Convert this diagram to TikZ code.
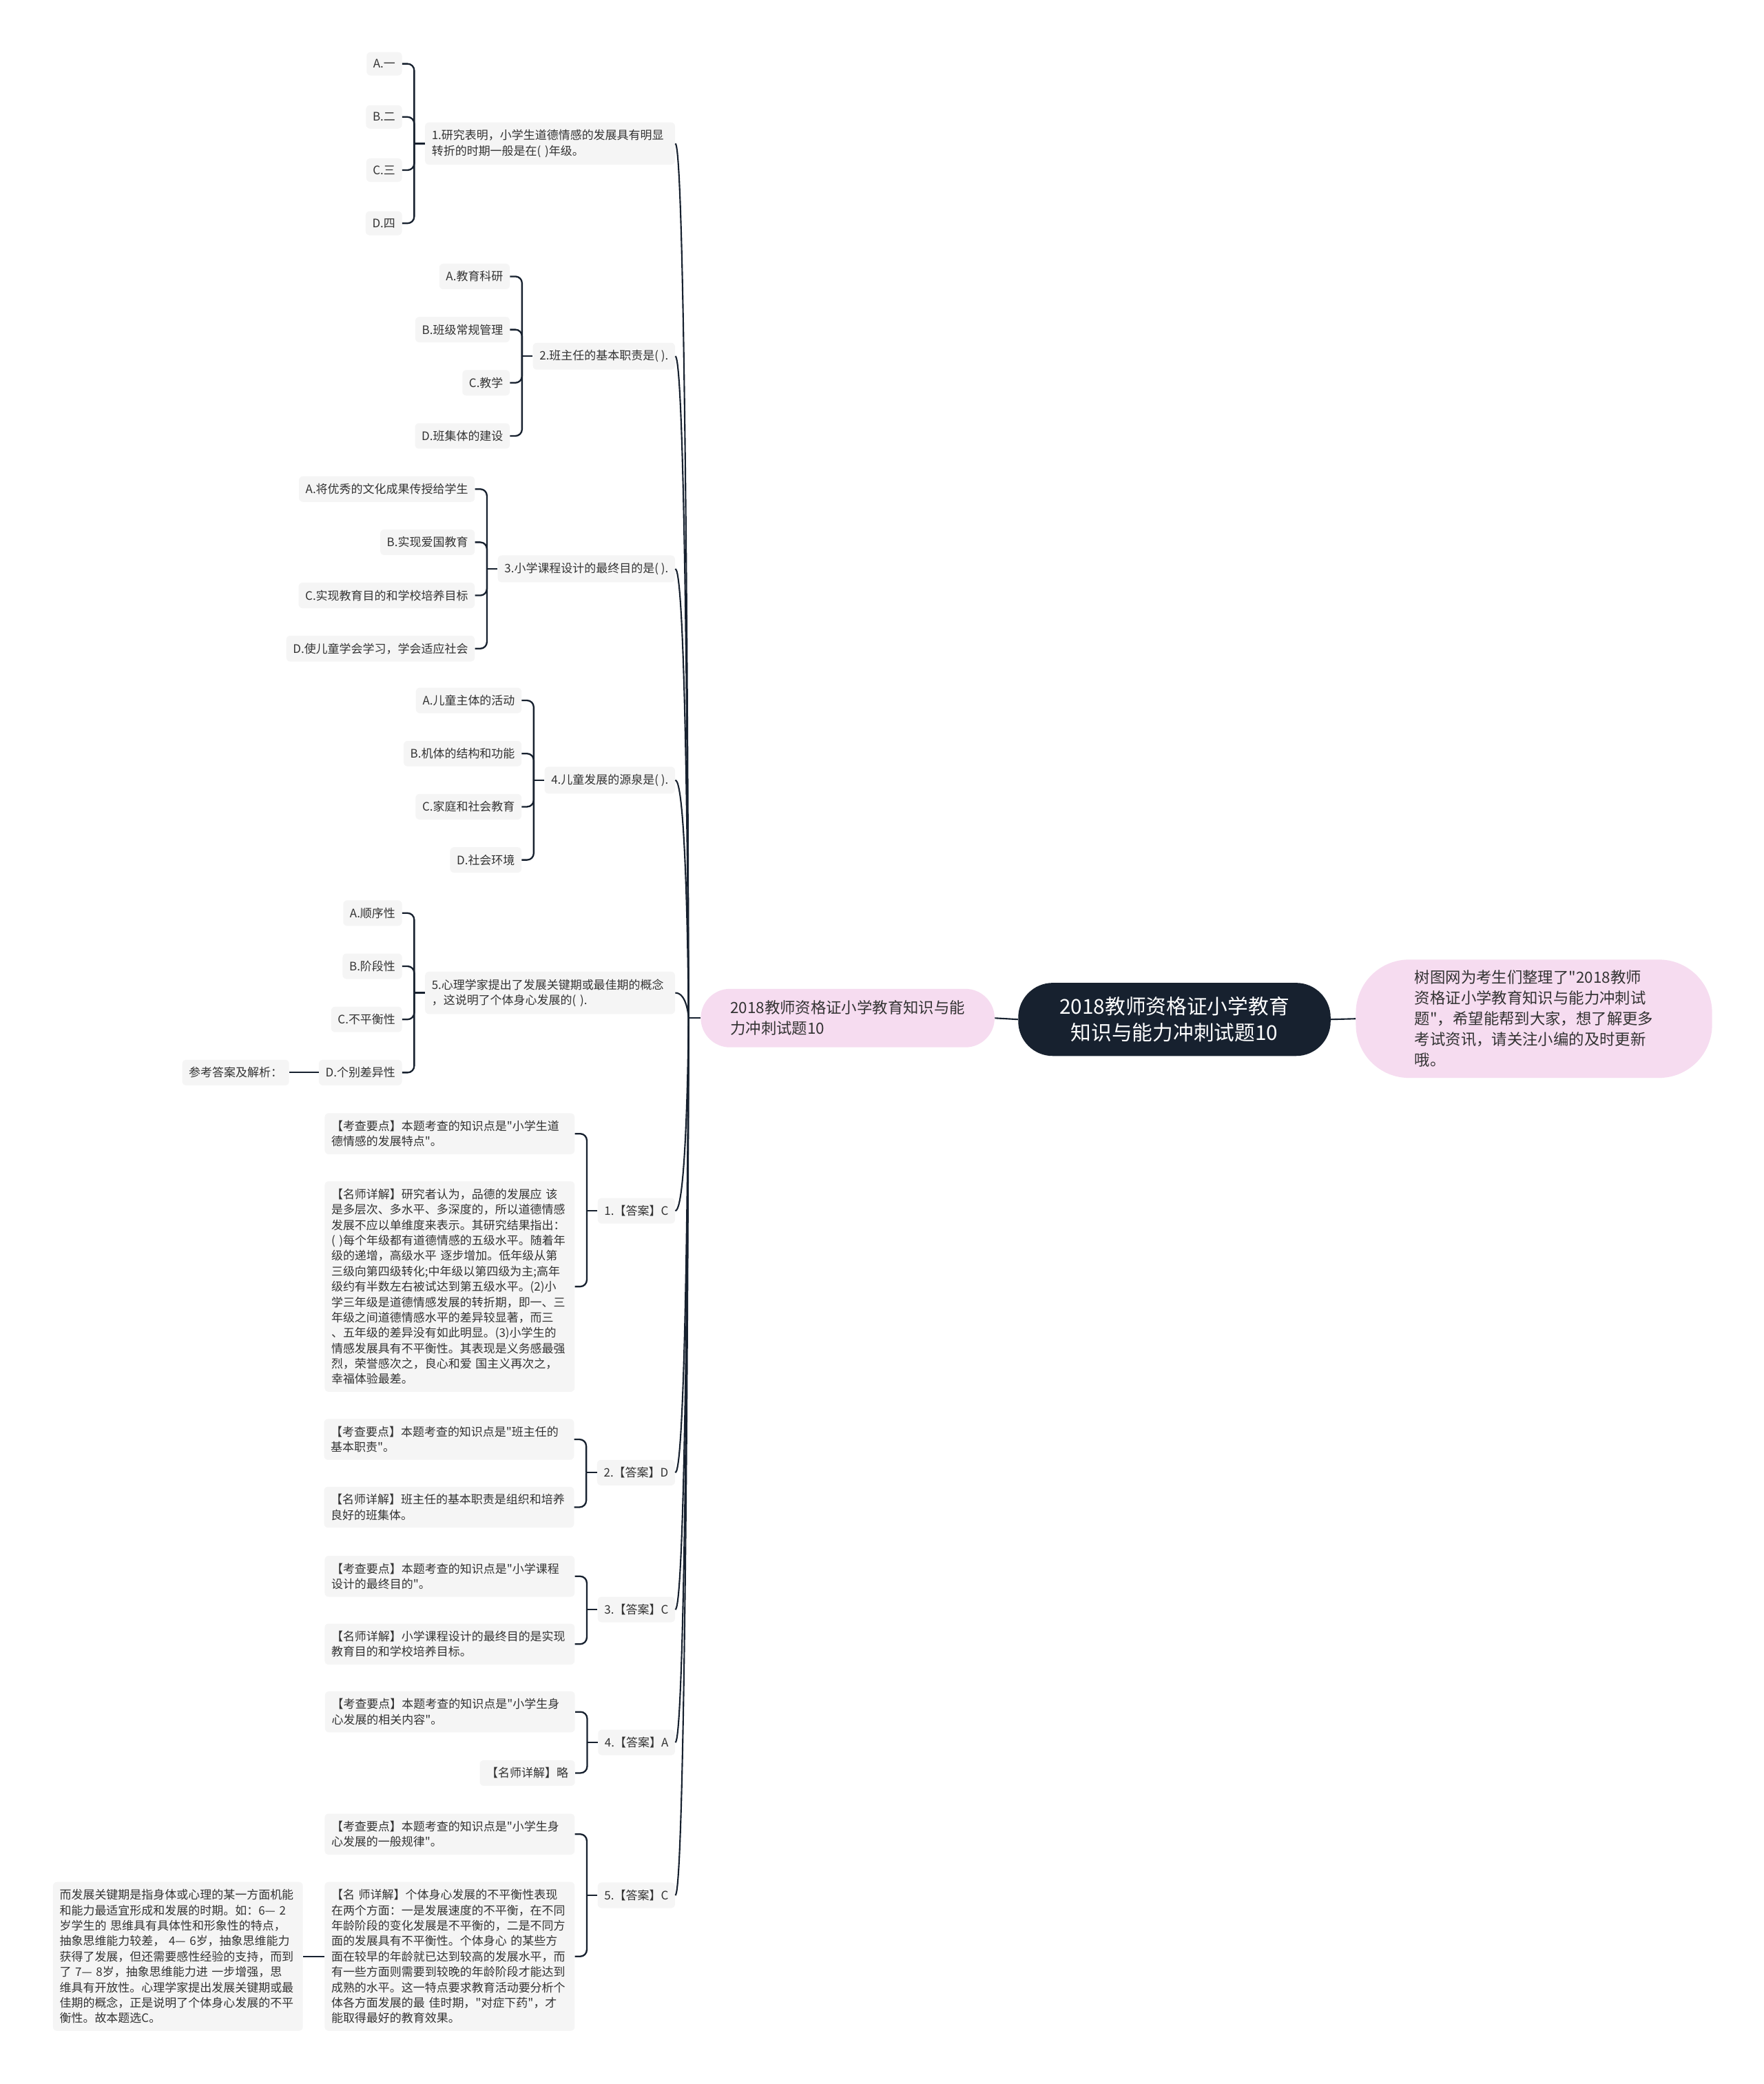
\documentclass[tikz,border=0pt]{standalone}
\usepackage{fontspec}
\setmainfont{Noto Sans CJK SC}[Ligatures=TeXOff]
\usepackage{tikz}
\usetikzlibrary{positioning}
\usetikzlibrary{calc}
\definecolor{inkdark}{HTML}{17212F}
\definecolor{leafgray}{HTML}{F5F5F5}
\definecolor{pinkfill}{HTML}{F6DCF0}
\definecolor{leaftext}{HTML}{333333}
\tikzstyle{leaf}=[rectangle,rounded corners=3pt,fill=leafgray,text=leaftext,inner xsep=5pt,inner ysep=5.5pt,font=\fontsize{8.8}{11.6}\selectfont]
\tikzstyle{wideleaf}=[leaf,text width=178pt,align=left]
\tikzstyle{bracketedge}=[draw=inkdark,line width=1.2pt,rounded corners=5pt]
\tikzstyle{spineedge}=[draw=inkdark,line width=1.1pt]
\tikzset{sidenode/.style={rectangle,fill=pinkfill,text=leaftext,align=left,font=\fontsize{11.6}{15.5}\selectfont}}
\tikzset{rootnode/.style={rectangle,fill=inkdark,text=white,align=center,minimum width=235pt,minimum height=55pt,rounded corners=26pt,font=\fontsize{15.4}{20}\selectfont}}

\begin{document}
\begin{tikzpicture}[x=1pt,y=-1pt]
    \fill[white] (0,0) rectangle (1327,1568);
    \useasboundingbox (0,0) rectangle (1327,1568);

    % the centre and its two sides
    \node[rootnode] (root) at (883.5,767) {2018教师资格证小学教育\\知识与能力冲刺试题10};
    \node[sidenode,anchor=west,minimum width=221pt,minimum height=44pt,rounded corners=22pt] (main) at (527,766) {2018教师资格证小学教育知识与能\\力冲刺试题10};
    \node[sidenode,minimum width=268pt,minimum height=89pt,rounded corners=40pt] (info) at (1154,766.5) {树图网为考生们整理了"2018教师\\资格证小学教育知识与能力冲刺试\\题"，希望能帮到大家，想了解更多\\考试资讯，请关注小编的及时更新\\哦。};
    \path[spineedge] (main.east) -- (root.west);
    \path[spineedge] (root.east) -- (info.west);

    % questions
    \node[wideleaf,anchor=east] (q1) at (508,108) {1.研究表明，小学生道德情感的发展具有明显\\转折的时期一般是在( )年级。};
    \node[leaf,anchor=east] (q2) at (508,268) {2.班主任的基本职责是( ).};
    \node[leaf,anchor=east] (q3) at (508,428) {3.小学课程设计的最终目的是( ).};
    \node[leaf,anchor=east] (q4) at (508,587) {4.儿童发展的源泉是( ).};
    \node[wideleaf,anchor=east] (q5) at (508,747) {5.心理学家提出了发展关键期或最佳期的概念\\，这说明了个体身心发展的( ).};

    % answers
    \node[leaf,anchor=east] (a1) at (508,911) {1.【答案】C};
    \node[leaf,anchor=east] (a2) at (508,1108) {2.【答案】D};
    \node[leaf,anchor=east] (a3) at (508,1211) {3.【答案】C};
    \node[leaf,anchor=east] (a4) at (508,1311) {4.【答案】A};
    \node[leaf,anchor=east] (a5) at (508,1426) {5.【答案】C};

    % options of each question
    \foreach \parent/\name/\dy/\label in {
        {q1/q1a/60/A.一}, {q1/q1b/20/B.二}, {q1/q1c/-20/C.三}, {q1/q1d/-60/D.四},
        {q2/q2a/60/A.教育科研}, {q2/q2b/20/B.班级常规管理}, {q2/q2c/-20/C.教学}, {q2/q2d/-60/D.班集体的建设},
        {q3/q3a/60/A.将优秀的文化成果传授给学生}, {q3/q3b/20/B.实现爱国教育}, {q3/q3c/-20/C.实现教育目的和学校培养目标}, {q3/q3d/-60/D.使儿童学会学习，学会适应社会},
        {q4/q4a/60/A.儿童主体的活动}, {q4/q4b/20/B.机体的结构和功能}, {q4/q4c/-20/C.家庭和社会教育}, {q4/q4d/-60/D.社会环境},
        {q5/q5a/60/A.顺序性}, {q5/q5b/20/B.阶段性}, {q5/q5c/-20/C.不平衡性}, {q5/q5d/-60/D.个别差异性}}
        \node[leaf,left=17pt of \parent,yshift=\dy] (\name) {\label};

    \node[leaf,left=22pt of q5d] (refnote) {参考答案及解析：};
    \path[spineedge] (q5d.west) -- (refnote.east);

    % explanations of each answer
    \node[wideleaf,left=17pt of a1,yshift=58] (a1k) {【考查要点】本题考查的知识点是"小学生道\\德情感的发展特点"。};
    \node[wideleaf,left=17pt of a1,yshift=-57] (a1m) {【名师详解】研究者认为，品德的发展应 该\\是多层次、多水平、多深度的，所以道德情感\\发展不应以单维度来表示。其研究结果指出：\\( )每个年级都有道德情感的五级水平。随着年\\级的递增，高级水平 逐步增加。低年级从第\\三级向第四级转化;中年级以第四级为主;高年\\级约有半数左右被试达到第五级水平。(2)小\\学三年级是道德情感发展的转折期，即一、三\\ 年级之间道德情感水平的差异较显著，而三\\、五年级的差异没有如此明显。(3)小学生的\\情感发展具有不平衡性。其表现是义务感最强\\烈，荣誉感次之，良心和爱 国主义再次之，\\幸福体验最差。};
    \node[wideleaf,left=17pt of a2,yshift=25] (a2k) {【考查要点】本题考查的知识点是"班主任的\\基本职责"。};
    \node[wideleaf,left=17pt of a2,yshift=-26] (a2m) {【名师详解】班主任的基本职责是组织和培养\\良好的班集体。};
    \node[wideleaf,left=17pt of a3,yshift=25] (a3k) {【考查要点】本题考查的知识点是"小学课程\\设计的最终目的"。};
    \node[wideleaf,left=17pt of a3,yshift=-26] (a3m) {【名师详解】小学课程设计的最终目的是实现\\教育目的和学校培养目标。};
    \node[wideleaf,left=17pt of a4,yshift=23] (a4k) {【考查要点】本题考查的知识点是"小学生身\\心发展的相关内容"。};
    \node[leaf,left=17pt of a4,yshift=-23] (a4m) {【名师详解】略};
    \node[wideleaf,left=17pt of a5,yshift=46] (a5k) {【考查要点】本题考查的知识点是"小学生身\\心发展的一般规律"。};
    \node[wideleaf,left=17pt of a5,yshift=-46] (a5m) {【名 师详解】个体身心发展的不平衡性表现\\在两个方面：一是发展速度的不平衡，在不同\\年龄阶段的变化发展是不平衡的，二是不同方\\面的发展具有不平衡性。个体身心 的某些方\\面在较早的年龄就已达到较高的发展水平，而\\有一些方面则需要到较晚的年龄阶段才能达到\\成熟的水平。这一特点要求教育活动要分析个\\体各方面发展的最 佳时期，"对症下药"，才\\能取得最好的教育效果。};
    \node[wideleaf,left=16pt of a5m] (a5x) {而发展关键期是指身体或心理的某一方面机能\\和能力最适宜形成和发展的时期。如：6— 2\\岁学生的 思维具有具体性和形象性的特点，\\抽象思维能力较差， 4— 6岁，抽象思维能力\\获得了发展，但还需要感性经验的支持，而到\\了 7— 8岁，抽象思维能力进 一步增强，思\\维具有开放性。心理学家提出发展关键期或最\\佳期的概念，正是说明了个体身心发展的不平\\衡性。故本题选C。};
    \path[spineedge] (a5m.west) -- (a5x.east);

    % spine from the main topic to questions and answers
    \coordinate (hub) at ($(main.west)+(-9,0)$);
    \path[spineedge] (main.west) -- (hub);
    \foreach \child in {q1,q2,q3,q4,q5,a1,a2,a3,a4,a5}
        \path[spineedge] (\child.east) .. controls +(9,0) and (hub) .. (hub);

    % brackets
    \foreach \parent in {q1,q2,q3,q4,q5,a1,a2,a3,a4,a5}
    {
        \coordinate (j-\parent) at ($(\parent.west)+(-8,0)$);
        \path[bracketedge] (\parent.west) -- (j-\parent);
    }
    \foreach \parent/\name in {q1/q1a,q1/q1b,q1/q1c,q1/q1d, q2/q2a,q2/q2b,q2/q2c,q2/q2d,
        q3/q3a,q3/q3b,q3/q3c,q3/q3d, q4/q4a,q4/q4b,q4/q4c,q4/q4d, q5/q5a,q5/q5b,q5/q5c,q5/q5d,
        a1/a1k,a1/a1m, a2/a2k,a2/a2m, a3/a3k,a3/a3m, a4/a4k,a4/a4m, a5/a5k,a5/a5m}
        \path[bracketedge] (\name.east) -| (j-\parent);

\end{tikzpicture}
\end{document}
